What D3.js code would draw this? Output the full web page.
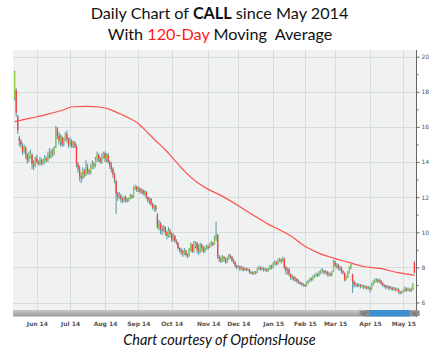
<!DOCTYPE html>
<html><head><meta charset="utf-8">
<script src="https://cdn.jsdelivr.net/npm/d3@7/dist/d3.min.js"></script>
<style>body{margin:0;background:#fff;overflow:hidden}</style>
</head><body><svg id="c" width="441" height="357"></svg>
<script>
// Daily OHLC of CALL, trading-day index 0 = 12 May 2014
const opens=[17.6,18.1,16.6,15.4,15.2,14.9,14.6,14.8,14.4,14.1,14.3,14.4,13.9,13.8,14.2,14.0,13.9,14.1,13.9,14.0,14.2,14.1,14.4,14.3,14.6,14.5,14.9,15.9,15.5,15.2,15.4,15.0,15.3,15.6,15.3,15.0,15.2,14.9,15.1,14.9,13.9,13.6,13.2,13.1,13.5,13.3,13.7,13.5,13.4,13.7,13.9,13.8,14.1,14.4,14.2,14.0,14.3,14.5,14.2,14.4,14.0,13.8,13.6,13.3,12.9,12.2,12.0,12.1,11.9,11.8,12.0,11.85,11.8,11.95,12.1,12.0,12.5,12.6,12.4,12.5,12.3,12.4,12.2,12.3,12.0,11.8,11.9,11.6,11.4,11.5,11.0,10.2,10.5,10.2,10.1,10.3,10.0,9.8,10.1,9.9,9.6,9.8,9.5,9.4,9.1,9.0,8.9,8.8,8.95,8.7,8.65,9.0,9.3,8.9,9.2,9.4,9.0,8.9,9.3,9.1,8.9,9.1,9.2,9.1,9.3,9.4,9.3,9.6,9.85,8.6,8.5,8.4,8.6,8.5,8.3,8.5,8.7,8.6,8.4,8.3,8.1,8.0,8.05,7.9,8.0,7.85,7.95,7.85,7.9,7.75,7.7,7.65,7.75,7.7,7.9,8.0,7.9,7.95,7.85,7.9,7.8,7.9,8.1,8.0,8.2,8.3,8.2,8.4,8.45,8.35,8.5,8.0,7.8,7.9,7.6,7.4,7.5,7.3,7.35,7.2,7.15,7.1,7.05,7.0,6.95,7.1,7.2,7.35,7.3,7.45,7.5,7.6,7.55,7.7,7.75,7.8,7.7,7.75,7.6,7.65,7.55,7.8,8.3,8.1,8.15,7.95,8.0,7.8,7.7,7.3,7.45,7.7,7.95,7.6,7.2,7.0,7.05,6.95,7.0,6.9,6.95,6.85,6.9,6.8,6.85,6.75,7.0,7.15,7.25,7.3,7.2,7.25,7.1,7.0,6.95,6.85,6.9,6.8,6.85,6.75,6.8,6.7,6.75,6.6,6.55,6.6,6.65,6.8,6.7,6.75,6.7,6.75,8.3];
const highs=[19.2,18.2,16.7,15.5,15.3,15.1,15.0,14.9,14.5,14.6,14.7,14.5,14.1,14.3,14.4,14.1,14.3,14.2,14.2,14.4,14.3,14.6,14.8,14.7,14.8,14.9,16.05,16.0,15.7,15.6,15.5,15.4,15.7,15.8,15.4,15.4,15.3,15.2,15.2,15.0,14.0,13.8,13.4,13.7,13.6,14.1,13.9,13.6,13.9,14.1,14.0,14.3,14.6,14.5,14.3,14.5,14.6,14.6,14.5,14.5,14.1,14.0,13.7,13.4,13.0,12.3,12.3,12.2,12.0,12.1,12.1,11.95,12.0,12.2,12.15,12.6,12.7,12.65,12.6,12.55,12.5,12.45,12.4,12.35,12.05,12.0,11.95,11.7,11.6,11.55,11.1,10.7,10.6,10.4,10.4,10.35,10.1,10.3,10.2,10.0,9.95,9.85,9.6,9.45,9.15,9.1,9.0,9.1,9.0,8.8,9.1,9.4,9.35,9.5,9.5,9.45,9.3,9.4,9.35,9.2,9.2,9.3,9.25,9.4,9.5,9.45,9.8,10.6,9.9,8.7,8.6,8.7,8.65,8.55,8.6,8.76,8.75,8.65,8.5,8.35,8.15,8.14,8.1,8.1,8.05,8.0,8.0,7.95,7.92,7.8,7.75,7.8,7.8,8.0,8.1,8.05,8.05,8.0,7.98,7.95,8.0,8.15,8.15,8.3,8.4,8.35,8.5,8.55,8.5,8.6,8.55,8.1,8.0,7.96,7.65,7.6,7.5,7.45,7.4,7.3,7.2,7.15,7.1,7.05,7.2,7.3,7.4,7.45,7.55,7.6,7.7,7.7,7.8,7.9,7.96,7.85,7.85,7.8,7.75,7.7,7.8,8.43,8.4,8.25,8.2,8.1,8.05,7.85,7.7,7.55,7.8,8.05,8.2,7.65,7.25,7.15,7.1,7.1,7.05,7.05,7.0,7.0,6.95,6.95,6.9,7.1,7.25,7.35,7.4,7.35,7.35,7.3,7.15,7.05,7.0,7.0,6.95,6.95,6.9,6.9,6.85,6.85,6.8,6.67,6.65,6.75,6.9,6.85,6.85,6.8,6.85,7.1,8.35];
const lows=[17.5,16.6,15.6,14.9,14.8,14.4,14.5,14.2,13.9,14.0,14.2,13.6,13.55,13.7,13.9,13.8,13.8,13.8,13.85,13.9,14.0,14.0,14.2,14.2,14.3,14.4,14.8,15.3,15.0,14.9,14.85,14.9,15.2,15.1,14.8,14.9,14.8,14.8,14.8,13.7,13.4,12.9,12.8,13.0,13.1,13.2,13.3,13.26,13.3,13.6,13.6,13.7,14.0,14.0,13.9,13.9,14.2,14.0,14.0,13.9,13.6,13.4,13.1,12.8,11.05,11.8,11.9,11.7,11.66,11.7,11.7,11.7,11.75,11.9,11.9,11.95,12.4,12.3,12.3,12.2,12.2,12.1,12.1,11.9,11.7,11.6,11.5,11.3,11.2,11.15,10.2,10.1,9.9,9.85,10.0,9.8,9.6,9.7,9.7,9.45,9.5,9.4,9.3,9.0,8.85,8.7,8.6,8.7,8.6,8.53,8.6,8.9,8.8,8.85,9.1,8.8,8.7,8.8,8.9,8.8,8.85,9.0,9.0,9.1,9.2,9.2,9.3,9.5,8.5,8.3,8.25,8.3,8.3,8.2,8.25,8.4,8.5,8.3,8.2,8.0,7.9,7.95,7.8,7.85,7.76,7.8,7.78,7.8,7.65,7.6,7.58,7.6,7.6,7.68,7.85,7.8,7.85,7.75,7.78,7.72,7.75,7.85,7.9,7.95,8.1,8.1,8.15,8.3,8.2,8.3,7.9,7.6,7.6,7.5,7.3,7.3,7.2,7.2,7.1,7.05,7.0,6.95,6.9,6.88,6.9,7.05,7.15,7.2,7.25,7.4,7.45,7.45,7.5,7.6,7.7,7.6,7.65,7.5,7.5,7.48,7.5,7.75,8.0,7.95,7.85,7.8,7.65,7.6,7.2,7.25,7.4,7.65,7.9,6.55,6.85,6.9,6.85,6.88,6.8,6.85,6.75,6.8,6.72,6.75,6.57,6.7,6.95,7.1,7.15,7.1,7.1,7.0,6.9,6.85,6.75,6.8,6.7,6.75,6.65,6.7,6.62,6.65,6.5,6.45,6.48,6.55,6.6,6.6,6.65,6.6,6.6,6.7,7.65];
const closes=[19.1,16.8,15.8,15.2,15.0,14.6,14.9,14.4,14.1,14.3,14.5,13.9,13.8,14.2,14.0,13.9,14.1,13.9,14.0,14.2,14.1,14.4,14.3,14.6,14.5,14.8,15.9,15.5,15.2,15.4,15.0,15.3,15.6,15.3,15.0,15.2,14.9,15.1,14.9,13.9,13.6,13.2,13.1,13.5,13.3,13.7,13.5,13.4,13.7,13.9,13.8,14.1,14.4,14.2,14.0,14.3,14.5,14.2,14.4,14.0,13.8,13.6,13.3,13.0,12.2,12.0,12.1,11.9,11.8,12.0,11.85,11.8,11.95,12.1,12.0,12.5,12.6,12.4,12.5,12.3,12.4,12.2,12.3,12.0,11.8,11.9,11.6,11.4,11.5,11.3,10.3,10.5,10.2,10.1,10.3,10.0,9.8,10.1,9.9,9.6,9.8,9.5,9.4,9.1,9.0,8.9,8.8,8.95,8.7,8.65,9.0,9.3,8.9,9.2,9.4,9.0,8.9,9.3,9.1,8.9,9.1,9.2,9.1,9.3,9.4,9.3,9.6,9.9,8.6,8.5,8.4,8.6,8.5,8.3,8.5,8.7,8.6,8.4,8.3,8.1,8.0,8.05,7.9,8.0,7.85,7.95,7.85,7.9,7.75,7.7,7.65,7.75,7.7,7.9,8.0,7.9,7.95,7.85,7.9,7.8,7.9,8.1,8.0,8.2,8.3,8.2,8.4,8.45,8.35,8.5,8.0,7.8,7.9,7.6,7.4,7.5,7.3,7.35,7.2,7.15,7.1,7.05,7.0,6.95,7.1,7.2,7.35,7.3,7.45,7.5,7.6,7.55,7.7,7.75,7.8,7.7,7.75,7.6,7.65,7.55,7.7,8.3,8.1,8.15,7.95,8.0,7.8,7.7,7.3,7.45,7.7,7.95,8.15,7.2,7.0,7.05,6.95,7.0,6.9,6.95,6.85,6.9,6.8,6.85,6.75,7.0,7.15,7.25,7.3,7.2,7.25,7.1,7.0,6.95,6.85,6.9,6.8,6.85,6.75,6.8,6.7,6.75,6.6,6.55,6.6,6.65,6.8,6.7,6.75,6.7,6.75,7.05,7.7];

// 120-day moving average, read at trading-day indices
const maIndex=[0,10,20,30,37,45,55,60,65,70,77,82,88,95,100,108,115,121,130,142,150,160,167,174,183,192,201,210,220,230,242,252];
const maValues=[16.3,16.5,16.7,16.95,17.15,17.17,17.12,17.0,16.8,16.6,16.25,15.85,15.3,14.7,14.2,13.4,12.85,12.5,12.1,11.46,11.0,10.45,10.14,9.8,9.2,8.8,8.53,8.3,8.05,7.94,7.7,7.55];

// month tick labels and their trading-day index
const monthLabels=["Jun 14","Jul 14","Aug 14","Sep 14","Oct 14","Nov 14","Dec 14","Jan 15","Feb 15","Mar 15","Apr 15","May 15"];
const monthIndex=[14,35,57,78,99,122,141,163,183,202,224,245];
const priceTicks=[6,7,8,9,10,11,12,13,14,15,16,17,18,19,20];
const gridPrices=[6,8,10,12,14,16,18,20];

const svg=d3.select("#c");
const L=13,R=416,T=50,B=310;
const x=d3.scaleLinear().domain([-1,253]).range([L,R]);
const y=d3.scaleLinear().domain([6,20]).range([302.5,56.7]);

// title
const t1=svg.append("text").attr("x",219.5).attr("y",18.5).attr("text-anchor","middle")
  .style("font-family","Lato, 'Open Sans', sans-serif").style("font-size","16.2px").attr("fill","#111");
t1.append("tspan").text("Daily Chart of ");
t1.append("tspan").attr("font-weight","bold").text("CALL");
t1.append("tspan").text(" since May 2014");
const t2=svg.append("text").attr("x",220).attr("y",40).attr("text-anchor","middle")
  .style("font-family","Lato, 'Open Sans', sans-serif").style("font-size","16.2px").attr("fill","#111");
t2.append("tspan").text("With ");
t2.append("tspan").attr("fill","#ff1a1a").text("120-Day");
t2.append("tspan").text(" Moving  Average").style("white-space","pre");

// plot background
svg.append("rect").attr("x",L).attr("y",T).attr("width",R-L).attr("height",B-T).attr("fill","#f0f1f1");
// grid
svg.append("g").selectAll("line").data(gridPrices).join("line")
  .attr("x1",L).attr("x2",R).attr("y1",d=>Math.round(y(d))+0.5).attr("y2",d=>Math.round(y(d))+0.5)
  .attr("stroke","#d9dcdc").attr("stroke-width",1);
svg.append("g").selectAll("line").data(monthIndex).join("line")
  .attr("y1",T).attr("y2",B).attr("x1",d=>Math.round(x(d))+0.5).attr("x2",d=>Math.round(x(d))+0.5)
  .attr("stroke","#d9dcdc").attr("stroke-width",1);

svg.append("clipPath").attr("id","clip").append("rect").attr("x",L).attr("y",T).attr("width",R-L).attr("height",B-T);
const g=svg.append("g").attr("clip-path","url(#clip)");
const idx=d3.range(closes.length);
// wicks
g.append("g").selectAll("line").data(idx).join("line")
  .attr("x1",i=>x(i)).attr("x2",i=>x(i)).attr("y1",i=>y(highs[i])).attr("y2",i=>y(lows[i]))
  .attr("stroke","#5f9fa6").attr("stroke-width",1.1);
// bodies
g.append("g").selectAll("rect").data(idx).join("rect")
  .attr("x",i=>x(i)-0.65).attr("width",1.3)
  .attr("y",i=>Math.min(y(opens[i]),y(closes[i])))
  .attr("height",i=>Math.max(1,Math.abs(y(opens[i])-y(closes[i]))))
  .attr("fill",i=>closes[i]>=opens[i]?"#8fd13f":"#ff3b3b");
// moving average
const line=d3.line().x(d=>x(d[0])).y(d=>y(d[1])).curve(d3.curveMonotoneX);
g.append("path").datum(maIndex.map((d,i)=>[d,maValues[i]])).attr("d",line)
  .attr("fill","none").attr("stroke","#ff5050").attr("stroke-width",1.2);

// right axis
const ya=d3.axisRight(y).tickValues(priceTicks).tickSize(3)
  .tickFormat(d=>gridPrices.includes(d)?d:"");
const yg=svg.append("g").attr("transform",`translate(${R+0.5},0)`).call(ya);
yg.select(".domain").remove();
yg.selectAll(".tick line").attr("stroke","#666").attr("x2",d=>gridPrices.includes(d)?3:2);
yg.selectAll(".tick text").attr("x",5).style("font-family","'DejaVu Sans', sans-serif").style("font-size","6px").attr("fill","#555");
svg.append("line").attr("x1",R+0.5).attr("x2",R+0.5).attr("y1",T).attr("y2",B+7).attr("stroke","#666");

// scrollbar
const sb=svg.append("g");
const grad=svg.append("defs").append("linearGradient").attr("id","sbg").attr("x1",0).attr("x2",0).attr("y1",0).attr("y2",1);
grad.append("stop").attr("offset",0).attr("stop-color","#c9c9c9");
grad.append("stop").attr("offset",1).attr("stop-color","#9a9a9a");
sb.append("rect").attr("x",L).attr("y",B).attr("width",R-L).attr("height",6.5).attr("fill","url(#sbg)");
sb.append("rect").attr("x",x(224)-5).attr("y",B).attr("width",x(249)-x(224)+5).attr("height",6.5).attr("fill","#3f8ed0");
[x(224)-10.5,x(249)].forEach(h=>{
  sb.append("rect").attr("x",h).attr("y",B+0.5).attr("width",10).attr("height",5.5).attr("fill","#8f8f8f");
  sb.append("text").attr("x",h+5).attr("y",B+5).attr("text-anchor","middle")
    .style("font-size","4px").style("font-family","'DejaVu Sans'").attr("fill","#555").text("|||");
});

// x labels
const xa=d3.axisBottom(x).tickValues(monthIndex).tickSize(0).tickFormat((d,i)=>monthLabels[i]);
const xg=svg.append("g").attr("transform",`translate(0,${B+9})`).call(xa);
xg.select(".domain").remove();
xg.selectAll(".tick text").style("font-family","'DejaVu Sans', sans-serif").style("font-size","6px")
  .style("font-weight","bold").attr("fill","#555");

// footer
svg.append("text").attr("x",219.5).attr("y",344.5).attr("text-anchor","middle")
  .style("font-family","Lato, 'Open Sans', sans-serif").style("font-style","italic").style("font-size","14.5px")
  .attr("fill","#111").text("Chart courtesy of OptionsHouse");
</script></body></html>
